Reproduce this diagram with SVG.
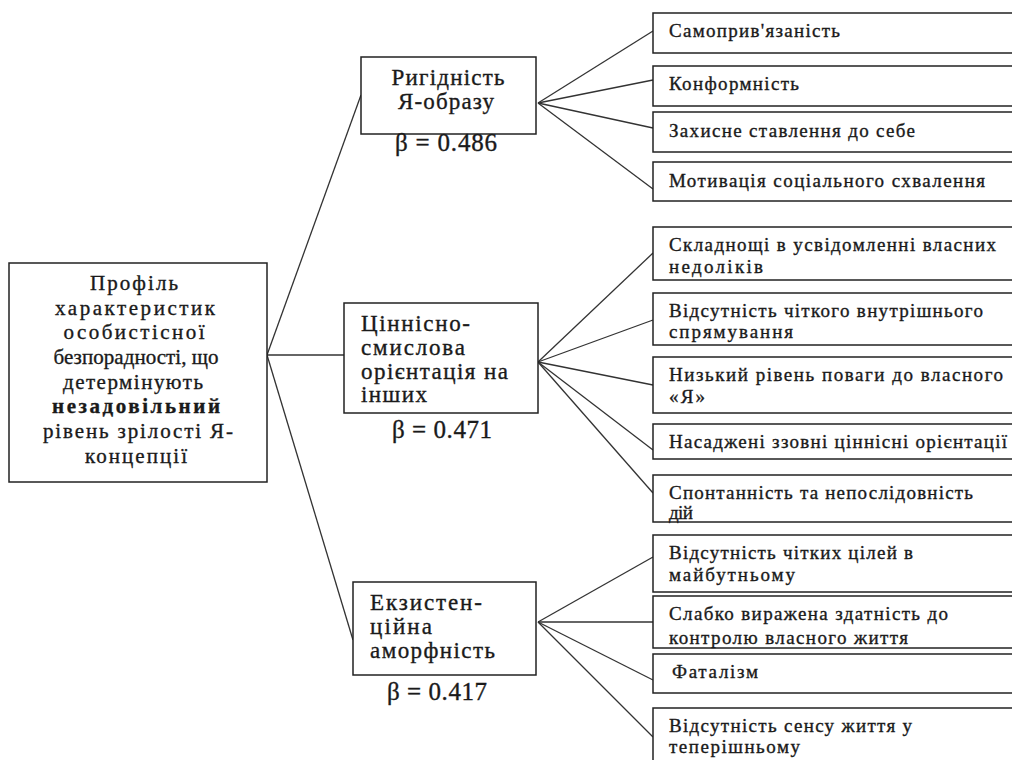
<svg xmlns="http://www.w3.org/2000/svg" width="1012" height="760" viewBox="0 0 1012 760">
<style>
.box{fill:#fff;stroke:#222;stroke-width:1.5}
.ln{stroke:#333;stroke-width:1.3;fill:none}
text{font-family:"Liberation Serif",serif;fill:#1a1a1a;stroke:#1a1a1a;stroke-width:0.35}
text.root{font-size:21px}
text.mid{font-size:23px}
text.beta{font-size:25px}
text.sm{font-size:19px}
</style>
<rect width="1012" height="760" fill="#fff"/>
<g id="connectors">
<line class="ln" x1="267" y1="355" x2="361" y2="95"/>
<line class="ln" x1="267" y1="355" x2="344" y2="355"/>
<line class="ln" x1="267" y1="355" x2="353" y2="640"/>
<line class="ln" x1="538" y1="103" x2="653" y2="31"/>
<line class="ln" x1="538" y1="103" x2="653" y2="80"/>
<line class="ln" x1="538" y1="103" x2="653" y2="128"/>
<line class="ln" x1="538" y1="103" x2="653" y2="189"/>
<line class="ln" x1="538" y1="362" x2="653" y2="253"/>
<line class="ln" x1="538" y1="362" x2="653" y2="320"/>
<line class="ln" x1="538" y1="362" x2="653" y2="385"/>
<line class="ln" x1="538" y1="362" x2="653" y2="450"/>
<line class="ln" x1="538" y1="362" x2="653" y2="493"/>
<line class="ln" x1="538" y1="622" x2="653" y2="557"/>
<line class="ln" x1="538" y1="622" x2="653" y2="622"/>
<line class="ln" x1="538" y1="622" x2="653" y2="680"/>
<line class="ln" x1="538" y1="622" x2="653" y2="737"/>
</g>
<g id="root">
<rect class="box" x="9" y="263" width="258" height="219"/>
<text class="root" text-anchor="middle" x="134" y="290" textLength="88">Профіль</text>
<text class="root" text-anchor="middle" x="135" y="315" textLength="160">характеристик</text>
<text class="root" text-anchor="middle" x="134" y="339" textLength="141">особистісної</text>
<text class="root" text-anchor="middle" x="136" y="364" textLength="165">безпорадності, що</text>
<text class="root" text-anchor="middle" x="133" y="389" textLength="140">детермінують</text>
<text class="root" text-anchor="middle" x="136" y="413" textLength="168" font-weight="bold">незадовільний</text>
<text class="root" text-anchor="middle" x="138" y="438" textLength="190">рівень зрілості Я-</text>
<text class="root" text-anchor="middle" x="136" y="463" textLength="102">концепції</text>
</g>
<g id="rigidnist">
<rect class="box" x="361" y="57" width="175" height="77"/>
<text class="mid" text-anchor="middle" x="448" y="85" textLength="113">Ригідність</text>
<text class="mid" text-anchor="middle" x="446" y="109" textLength="96">Я-образу</text>
<text class="beta" text-anchor="middle" x="446" y="151" textLength="102">β = 0.486</text>
</g>
<g id="tsinnisno">
<rect class="box" x="344" y="303" width="194" height="110"/>
<text class="mid" x="361" y="331" textLength="109">Ціннісно-</text>
<text class="mid" x="361" y="355" textLength="104">смислова</text>
<text class="mid" x="361" y="379" textLength="147">орієнтація на</text>
<text class="mid" x="361" y="402" textLength="66">інших</text>
<text class="beta" text-anchor="middle" x="442" y="438" textLength="100">β = 0.471</text>
</g>
<g id="ekzysten">
<rect class="box" x="353" y="582" width="183" height="93"/>
<text class="mid" x="370" y="610" textLength="112">Екзистен-</text>
<text class="mid" x="370" y="634" textLength="62">ційна</text>
<text class="mid" x="370" y="658" textLength="125">аморфність</text>
<text class="beta" text-anchor="middle" x="437" y="700" textLength="100">β = 0.417</text>
</g>
<g id="r1"><rect class="box" x="653" y="13" width="370" height="40"/><text class="sm" x="669" y="37" textLength="171">Самоприв'язаність</text></g>
<g id="r2"><rect class="box" x="653" y="66" width="370" height="40"/><text class="sm" x="669" y="90" textLength="130">Конформність</text></g>
<g id="r3"><rect class="box" x="653" y="112" width="370" height="40"/><text class="sm" x="669" y="137" textLength="246">Захисне ставлення до себе</text></g>
<g id="r4"><rect class="box" x="653" y="162" width="370" height="39"/><text class="sm" x="669" y="187" textLength="316">Мотивація соціального схвалення</text></g>
<g id="r5"><rect class="box" x="653" y="227" width="370" height="53"/><text class="sm" x="669" y="251" textLength="327">Складнощі в усвідомленні власних</text><text class="sm" x="669" y="273" textLength="94">недоліків</text></g>
<g id="r6"><rect class="box" x="653" y="293" width="370" height="52"/><text class="sm" x="669" y="317" textLength="314">Відсутність чіткого внутрішнього</text><text class="sm" x="669" y="338" textLength="124">спрямування</text></g>
<g id="r7"><rect class="box" x="653" y="357" width="370" height="56"/><text class="sm" x="669" y="381" textLength="334">Низький рівень поваги до власного</text><text class="sm" x="669" y="403" textLength="36">«Я»</text></g>
<g id="r8"><rect class="box" x="653" y="424" width="370" height="35"/><text class="sm" x="669" y="448" textLength="338">Насаджені ззовні ціннісні орієнтації</text></g>
<g id="r9"><rect class="box" x="653" y="475" width="370" height="47"/><text class="sm" x="669" y="499" textLength="304">Спонтанність та непослідовність</text><text class="sm" x="669" y="519" textLength="24">дій</text></g>
<g id="r10"><rect class="box" x="653" y="535" width="370" height="57"/><text class="sm" x="669" y="559" textLength="244">Відсутність чітких цілей в</text><text class="sm" x="669" y="581" textLength="126">майбутньому</text></g>
<g id="r11"><rect class="box" x="653" y="596" width="370" height="52"/><text class="sm" x="669" y="620" textLength="279">Слабко виражена здатність до</text><text class="sm" x="669" y="644" textLength="239">контролю власного життя</text></g>
<g id="r12"><rect class="box" x="653" y="654" width="370" height="39"/><text class="sm" x="672" y="678" textLength="86">Фаталізм</text></g>
<g id="r13"><rect class="box" x="653" y="708" width="370" height="60"/><text class="sm" x="669" y="732" textLength="243">Відсутність сенсу життя у</text><text class="sm" x="669" y="753" textLength="131">теперішньому</text></g>
</svg>
